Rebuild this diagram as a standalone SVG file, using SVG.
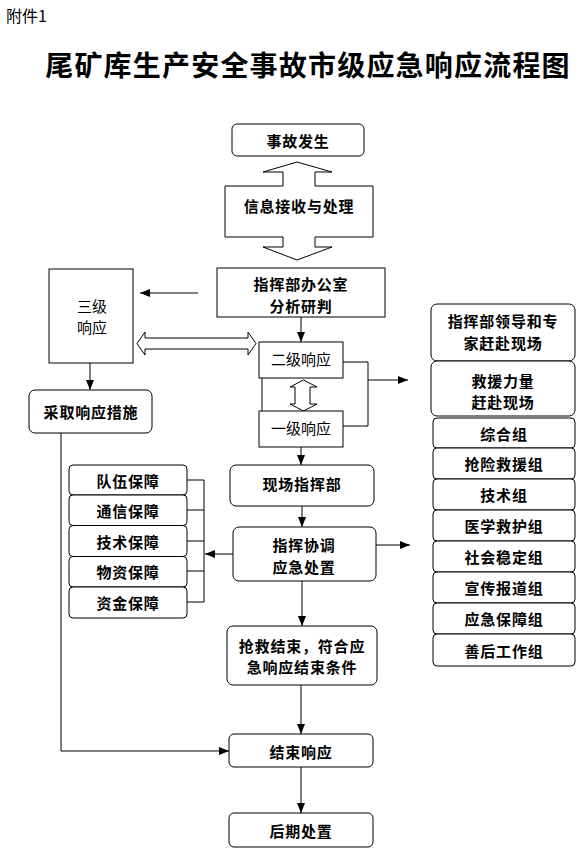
<svg xmlns="http://www.w3.org/2000/svg" width="582" height="856" viewBox="0 0 582 856">
<style>
.bg{fill:#fff}
.box{fill:#fff;stroke:#000;stroke-width:1}
.t{font-family:"Noto Sans CJK SC","Liberation Serif",sans-serif;font-size:15px;font-weight:bold;fill:#000;text-anchor:middle;dominant-baseline:central;letter-spacing:0.8px}
.tn{font-family:"Noto Sans CJK SC","Liberation Serif",sans-serif;font-size:15px;font-weight:normal;fill:#000;text-anchor:middle;dominant-baseline:central}
.ln{fill:none;stroke:#000;stroke-width:1}
.arr{fill:none;stroke:#000;stroke-width:1;marker-end:url(#ah)}
</style>
<defs>
<marker id="ah" markerUnits="userSpaceOnUse" markerWidth="10" markerHeight="10" viewBox="0 0 10 10" refX="10" refY="5" orient="auto">
<path d="M0,1 L10,5 L0,9 Z" fill="#000"/>
</marker>
</defs>
<rect class="bg" x="0" y="0" width="582" height="856"/>
<g id="header">
<text x="6" y="15" style="font-family:'Noto Sans CJK SC','Liberation Sans',sans-serif;font-size:16px;dominant-baseline:central">附件1</text>
<text x="308" y="64" style="font-family:'Noto Sans CJK SC','Liberation Serif',sans-serif;font-size:28px;font-weight:bold;text-anchor:middle;dominant-baseline:central;letter-spacing:1.2px">尾矿库生产安全事故市级应急响应流程图</text>
</g>
<g id="connectors">
<line class="arr" x1="198" y1="293" x2="140" y2="293"/>
<line class="arr" x1="301" y1="317" x2="301" y2="342"/>
<line class="arr" x1="90" y1="363" x2="90" y2="390"/>
<path class="ln" d="M343,362 H368 V426 H343"/>
<line class="arr" x1="368" y1="380" x2="408" y2="380"/>
<line class="ln" x1="262" y1="378" x2="262" y2="411"/>
<line class="arr" x1="301" y1="447" x2="301" y2="465"/>
<line class="arr" x1="302" y1="506" x2="302" y2="527"/>
<path class="ln" d="M187,480 H204 M187,510 H204 M187,541 H204 M187,571 H204 M187,602 H204 M204,480 V602"/>
<line class="arr" x1="233" y1="554" x2="205" y2="554"/>
<line class="arr" x1="376" y1="545" x2="410" y2="545"/>
<line class="arr" x1="302" y1="581" x2="302" y2="626"/>
<line class="arr" x1="301" y1="685" x2="301" y2="734"/>
<path class="arr" d="M61,433 V751 H229"/>
<line class="arr" x1="301" y1="767" x2="301" y2="813"/>
<polygon id="dbl-h" class="box" points="137,343.5 145,332 145,338 248,338 248,332 256,343.5 248,355 248,349 145,349 145,355"/>
<polygon id="dbl-v" class="box" points="303.5,380 317,387 310,387 310,404 317,404 303.5,411 290,404 295,404 295,387 290,387"/>
</g>
<g id="n-accident"><rect class="box" x="232" y="124" width="132" height="32" rx="5"/><text class="t" x="298" y="140">事故发生</text></g>
<g id="n-info"><polygon class="box" points="297,162 332,172 315,172 315,186 373,186 373,237 315,237 315,247 332,247 297,260 263,247 283,247 283,237 225,237 225,186 283,186 283,172 263,172"/><text class="t" x="299" y="205">信息接收与处理</text></g>
<g id="n-office"><rect class="box" x="217" y="268" width="168" height="49"/><text class="t" x="301" y="283">指挥部办公室</text><text class="t" x="301" y="305">分析研判</text></g>
<g id="n-level3"><rect class="box" x="49" y="269" width="84" height="94"/><text class="tn" x="92" y="305">三级</text><text class="tn" x="92" y="326">响应</text></g>
<g id="n-measures"><rect class="box" x="29" y="390" width="123" height="43" rx="6"/><text class="t" x="91" y="411">采取响应措施</text></g>
<g id="n-level2"><rect class="box" x="259" y="342" width="84" height="36"/><text class="tn" x="301" y="358">二级响应</text></g>
<g id="n-level1"><rect class="box" x="259" y="411" width="84" height="36"/><text class="tn" x="301" y="427">一级响应</text></g>
<g id="n-leaders"><rect class="box" x="431" y="304" width="144" height="57" rx="6"/><text class="t" x="503" y="320">指挥部领导和专</text><text class="t" x="503" y="342">家赶赴现场</text></g>
<g id="n-rescue"><rect class="box" x="431" y="361" width="144" height="55" rx="6"/><text class="t" x="503" y="380">救援力量</text><text class="t" x="503" y="401">赶赴现场</text></g>
<g id="n-g1"><rect class="box" x="433" y="418" width="142" height="30" rx="4"/><text class="t" x="504" y="433">综合组</text></g>
<g id="n-g2"><rect class="box" x="433" y="448" width="142" height="31" rx="4"/><text class="t" x="504" y="463.5">抢险救援组</text></g>
<g id="n-g3"><rect class="box" x="433" y="479" width="142" height="31" rx="4"/><text class="t" x="504" y="494.5">技术组</text></g>
<g id="n-g4"><rect class="box" x="433" y="510" width="142" height="31" rx="4"/><text class="t" x="504" y="525.5">医学救护组</text></g>
<g id="n-g5"><rect class="box" x="433" y="541" width="142" height="31" rx="4"/><text class="t" x="504" y="556.5">社会稳定组</text></g>
<g id="n-g6"><rect class="box" x="433" y="572" width="142" height="31" rx="4"/><text class="t" x="504" y="587.5">宣传报道组</text></g>
<g id="n-g7"><rect class="box" x="433" y="603" width="142" height="31" rx="4"/><text class="t" x="504" y="618.5">应急保障组</text></g>
<g id="n-g8"><rect class="box" x="433" y="634" width="142" height="32" rx="4"/><text class="t" x="504" y="650">善后工作组</text></g>
<g id="n-s1"><rect class="box" x="69" y="465" width="118" height="30" rx="4"/><text class="t" x="128" y="480">队伍保障</text></g>
<g id="n-s2"><rect class="box" x="69" y="495" width="118" height="30.5" rx="4"/><text class="t" x="128" y="510">通信保障</text></g>
<g id="n-s3"><rect class="box" x="69" y="525.5" width="118" height="31" rx="4"/><text class="t" x="128" y="541">技术保障</text></g>
<g id="n-s4"><rect class="box" x="69" y="556.5" width="118" height="30.5" rx="4"/><text class="t" x="128" y="571.5">物资保障</text></g>
<g id="n-s5"><rect class="box" x="69" y="587" width="118" height="31" rx="4"/><text class="t" x="128" y="602">资金保障</text></g>
<g id="n-site"><rect class="box" x="230" y="465" width="144" height="41" rx="6"/><text class="t" x="302" y="483">现场指挥部</text></g>
<g id="n-coord"><rect class="box" x="233" y="527" width="143" height="54" rx="6"/><text class="t" x="304" y="544">指挥协调</text><text class="t" x="304" y="566">应急处置</text></g>
<g id="n-end-cond"><rect class="box" x="227" y="626" width="150" height="59" rx="6"/><text class="t" x="302" y="645">抢救结束，符合应</text><text class="t" x="302" y="666">急响应结束条件</text></g>
<g id="n-end"><rect class="box" x="229" y="734" width="144" height="33" rx="5"/><text class="t" x="301" y="751">结束响应</text></g>
<g id="n-after"><rect class="box" x="229" y="813" width="144" height="34" rx="5"/><text class="t" x="301" y="830">后期处置</text></g>
</svg>
